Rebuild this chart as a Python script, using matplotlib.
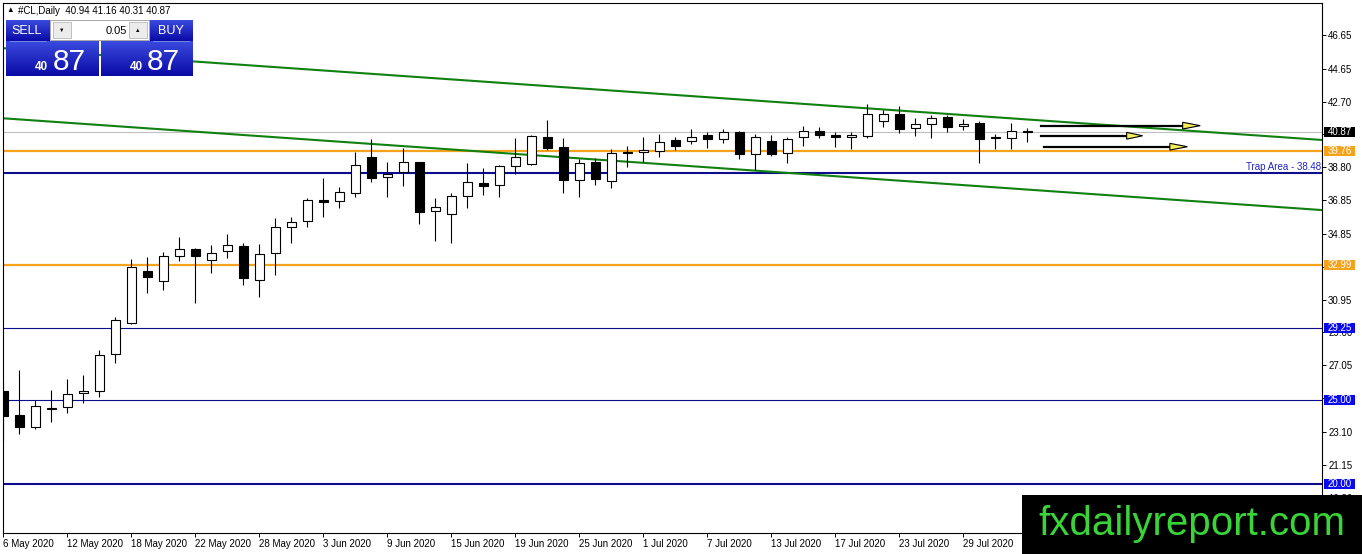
import numpy as np
import matplotlib
matplotlib.use("Agg")
import matplotlib.pyplot as plt
from matplotlib.patches import Rectangle, Polygon
from matplotlib.colors import LinearSegmentedColormap
import matplotlib.transforms as mtransforms

plt.rcParams['font.family'] = ['Liberation Sans', 'DejaVu Sans']

# Datos diarios #CL (6 May 2020 - 4 Aug 2020)
opens = [25.52, 24.11, 23.37, 24.48, 24.55, 25.38, 25.54, 27.70, 29.53, 32.63,
         32.03, 33.52, 33.95, 33.28, 33.81, 34.11, 32.09, 33.69, 35.24, 35.59,
         36.86, 36.78, 37.25, 39.41, 38.20, 38.54, 39.09, 36.23, 36.01, 37.08,
         37.87, 37.73, 38.86, 38.98, 40.60, 39.98, 38.03, 39.11, 37.99, 39.63,
         39.68, 39.78, 40.42, 40.34, 40.73, 40.46, 40.89, 39.59, 40.34, 39.63,
         40.61, 40.97, 40.73, 40.58, 40.67, 41.55, 41.96, 41.11, 41.35, 41.77,
         41.23, 41.41, 40.56, 40.52, 40.94]
highs = [26.06, 26.77, 24.99, 25.58, 26.23, 26.47, 27.96, 29.90, 33.34, 33.46,
         33.77, 34.64, 34.01, 34.19, 34.82, 34.29, 34.24, 35.77, 35.87, 36.98,
         38.15, 37.65, 39.72, 40.46, 39.09, 39.93, 39.12, 36.96, 37.26, 39.07,
         38.74, 38.93, 40.52, 40.72, 41.61, 40.52, 39.29, 39.33, 39.87, 40.06,
         40.58, 40.77, 40.58, 41.07, 40.91, 41.05, 40.97, 40.77, 40.72, 40.58,
         41.25, 41.17, 40.91, 40.87, 42.54, 42.20, 42.44, 41.71, 41.90, 41.90,
         41.67, 41.55, 40.76, 41.41, 41.16]
lows = [22.57, 22.95, 23.25, 23.66, 24.20, 24.79, 25.18, 27.20, 29.50, 31.32,
        31.53, 33.26, 30.73, 32.51, 33.40, 31.80, 31.12, 32.39, 34.29, 35.27,
        35.87, 36.36, 37.02, 37.94, 37.05, 37.71, 35.42, 34.44, 34.32, 36.36,
        37.15, 37.05, 38.38, 38.92, 39.82, 37.29, 37.05, 37.75, 37.55, 38.83,
        39.11, 39.43, 39.82, 40.16, 39.93, 40.26, 39.27, 38.64, 39.47, 39.07,
        40.06, 40.52, 40.02, 39.87, 40.56, 41.17, 40.85, 40.67, 40.56, 40.91,
        41.03, 39.07, 39.87, 39.87, 40.31]
closes = [24.06, 23.37, 24.61, 24.52, 25.33, 25.50, 27.64, 29.72, 32.86, 32.31,
          33.52, 33.93, 33.55, 33.69, 34.17, 32.21, 33.64, 35.27, 35.53, 36.84,
          36.72, 37.33, 38.93, 38.18, 38.40, 39.09, 36.16, 36.46, 37.08, 37.91,
          37.67, 38.86, 39.39, 40.66, 39.96, 38.04, 39.04, 38.12, 39.63, 39.72,
          39.85, 40.28, 40.08, 40.58, 40.46, 40.88, 39.57, 40.58, 39.59, 40.46,
          40.97, 40.70, 40.59, 40.72, 41.96, 41.96, 41.09, 41.35, 41.71, 41.17,
          41.39, 40.46, 40.58, 40.95, 40.87]

date_ticks = [0, 4, 8, 12, 16, 20, 24, 28, 32, 36, 40, 44, 48, 52, 56, 60]
date_labels = ['6 May 2020', '12 May 2020', '18 May 2020', '22 May 2020', '28 May 2020',
               '3 Jun 2020', '9 Jun 2020', '15 Jun 2020', '19 Jun 2020', '25 Jun 2020',
               '1 Jul 2020', '7 Jul 2020', '13 Jul 2020', '17 Jul 2020', '23 Jul 2020',
               '29 Jul 2020']
# las marcas tapadas por las etiquetas de color no llevan texto
price_ticks = [46.65, 44.65, 42.70, 40.75, 38.80, 36.85, 34.85, 32.90, 30.95,
               29.00, 27.05, 25.10, 23.10, 21.15, 19.20]
hidden_ticks = [40.75, 32.90, 25.10]

# Niveles horizontales
bid_price = 40.87
orange_levels = [39.76, 32.99]
trap_level = 38.48
blue_levels = [29.25, 25.00, 20.00]

# Lineas de tendencia (barra, precio)
upper_trend_x = [-0.0625, 82.41]
upper_trend_y = [45.87, 40.42]
lower_trend_x = [-0.0625, 82.41]
lower_trend_y = [41.71, 36.26]

# Flechas: nivel, inicio, fin de linea, punta
arrow_levels = [41.27, 40.67, 40.02]
arrow_start = [64.84, 64.84, 65.03]
arrow_body_end = [73.7, 70.2, 72.9]
arrow_tip = [74.8, 71.2, 74.0]

W, H = 1362, 554
fig = plt.figure(figsize=(W / 100, H / 100), dpi=100)
ax = fig.add_axes([2.5 / W, 1 - 533 / H, (1322 - 2.5) / W, (533 - 2.5) / H])
ax.set_xlim(-0.0625, 82.41)
ax.set_ylim(17.095, 48.579)

x = np.arange(len(opens))
o = np.array(opens)
c = np.array(closes)
bull = c >= o

ax.vlines(x, lows, highs, color='black', lw=0.8, zorder=3)
body_h = np.maximum(np.abs(c - o), 0.005)
ax.bar(x, body_h, bottom=np.minimum(o, c), width=0.6,
       color=np.where(bull, 'white', 'black'), edgecolor='black', lw=0.8, zorder=4)

ax.axhline(bid_price, color='#c0c0c0', lw=0.8, zorder=1)
for lv in orange_levels:
    ax.axhline(lv, color='#f5a31a', lw=1.6, zorder=2)
ax.axhline(trap_level, color='#0c0c8c', lw=1.5, zorder=2)
for lv, lw in zip(blue_levels, [0.8, 0.8, 1.5]):
    ax.axhline(lv, color='#0c0c8c', lw=lw, zorder=2)

ax.plot(upper_trend_x, upper_trend_y, color='#108010', lw=1.5, zorder=2)
ax.plot(lower_trend_x, lower_trend_y, color='#108010', lw=1.5, zorder=2)

for lv, x0, x1, xt in zip(arrow_levels, arrow_start, arrow_body_end, arrow_tip):
    ax.plot([x0, x1], [lv, lv], color='black', lw=1.6, zorder=5)
    ax.add_patch(Polygon([[x1, lv + 0.2], [xt, lv], [x1, lv - 0.2]], closed=True,
                         fc='#f5ee5a', ec='black', lw=0.8, zorder=6))

blend = mtransforms.blended_transform_factory(ax.transAxes, ax.transData)
ax.text(1 - 1 / 1320, trap_level + 0.06, 'Trap Area - 38.48', color='#2424c8',
        fontsize=7, ha='right', va='bottom', transform=blend)

# Ejes
for sp in ax.spines.values():
    sp.set_linewidth(0.8)
    sp.set_color('black')
ax.yaxis.tick_right()
ax.set_yticks(price_ticks)
ax.set_yticklabels(['' if t in hidden_ticks else f'{t:.2f}' for t in price_ticks])
ax.tick_params(axis='y', direction='out', length=2.9, width=0.7, pad=1.5, labelsize=7)
ax.set_xticks(date_ticks)
ax.set_xticklabels(date_labels, ha='left')
ax.tick_params(axis='x', direction='out', length=2.6, width=0.7, pad=1.5, labelsize=7)

# Etiquetas de precio en el eje derecho
tags = [(bid_price, 'black')] + [(lv, '#f5a31a') for lv in orange_levels] + \
       [(lv, '#0a0aee') for lv in blue_levels]
for lv, col in tags:
    ax.add_patch(Rectangle((1 + 2 / 1320, lv - 0.3), 31 / 1320, 0.6, transform=blend,
                           fc=col, ec='none', clip_on=False, zorder=10))
    ax.text(1 + 17.5 / 1320, lv, f'{lv:.2f}', color='white', fontsize=7,
            ha='center', va='center', transform=blend, clip_on=False, zorder=11)

# Capa superior: panel de compra/venta, cabecera y logo (coordenadas en pixeles)
ov = fig.add_axes([0, 0, 1, 1], zorder=10)
ov.patch.set_alpha(0)
ov.axis('off')
cmap = LinearSegmentedColormap.from_list('btn', ['#3a4ade', '#0a0aa6'])
grad = np.linspace(0, 1, 64).reshape(-1, 1)
for bx, by, bw, bh in [(6, 20, 44, 21), (149, 20, 44, 21), (6, 41, 93, 35), (101, 41, 92, 35)]:
    ov.imshow(grad, extent=(bx, bx + bw, by + bh, by), cmap=cmap, aspect='auto', zorder=1)
ov.plot([10, 46], [41, 41], color='#7f8fe8', lw=0.6, zorder=2)
ov.plot([153, 189], [41, 41], color='#7f8fe8', lw=0.6, zorder=2)
ov.add_patch(Rectangle((50, 20), 99, 20, fc='white', ec='#a8a8a8', lw=0.7, zorder=2))
ov.add_patch(Rectangle((53, 22), 18, 16, fc='#ececec', ec='#b8b8b8', lw=0.6, zorder=3))
ov.add_patch(Rectangle((129, 22), 18, 16, fc='#ececec', ec='#b8b8b8', lw=0.6, zorder=3))
ov.text(62, 30, '▼', fontsize=4, ha='center', va='center', color='black', zorder=4)
ov.text(138, 30, '▲', fontsize=4, ha='center', va='center', color='black', zorder=4)
ov.text(127, 30.5, '0.05', fontsize=8, ha='right', va='center', color='black', zorder=4)
ov.text(27, 31, 'SELL', fontsize=9, ha='center', va='center', color='white', zorder=4)
ov.text(171, 31, 'BUY', fontsize=9, ha='center', va='center', color='white', zorder=4)
big = f'{closes[-1]:.2f}'.split('.')
for x_small, x_big in [(41.5, 53), (136, 147)]:
    ov.text(x_small, 70, big[0], fontsize=8.5, ha='center', va='baseline',
            color='white', fontweight='bold', zorder=4)
    ov.text(x_big, 70, big[1], fontsize=21.5, ha='left', va='baseline',
            color='white', zorder=4)

ov.text(10, 11, '▲', fontsize=5.5, ha='center', va='center', color='black')
ov.text(18, 11.5, f'#CL,Daily  {opens[-1]:.2f} {highs[-1]:.2f} {lows[-1]:.2f} {closes[-1]:.2f}',
        fontsize=7, ha='left', va='center', color='black')

ov.add_patch(Rectangle((1022, 495), 340, 59, fc='black', ec='none', zorder=5))
ov.text(1038, 535, 'fxdailyreport.com', fontsize=29, color='#38d438',
        ha='left', va='baseline', zorder=6)
ov.set_xlim(0, W)
ov.set_ylim(H, 0)

fig.savefig('out.png', dpi=100)
